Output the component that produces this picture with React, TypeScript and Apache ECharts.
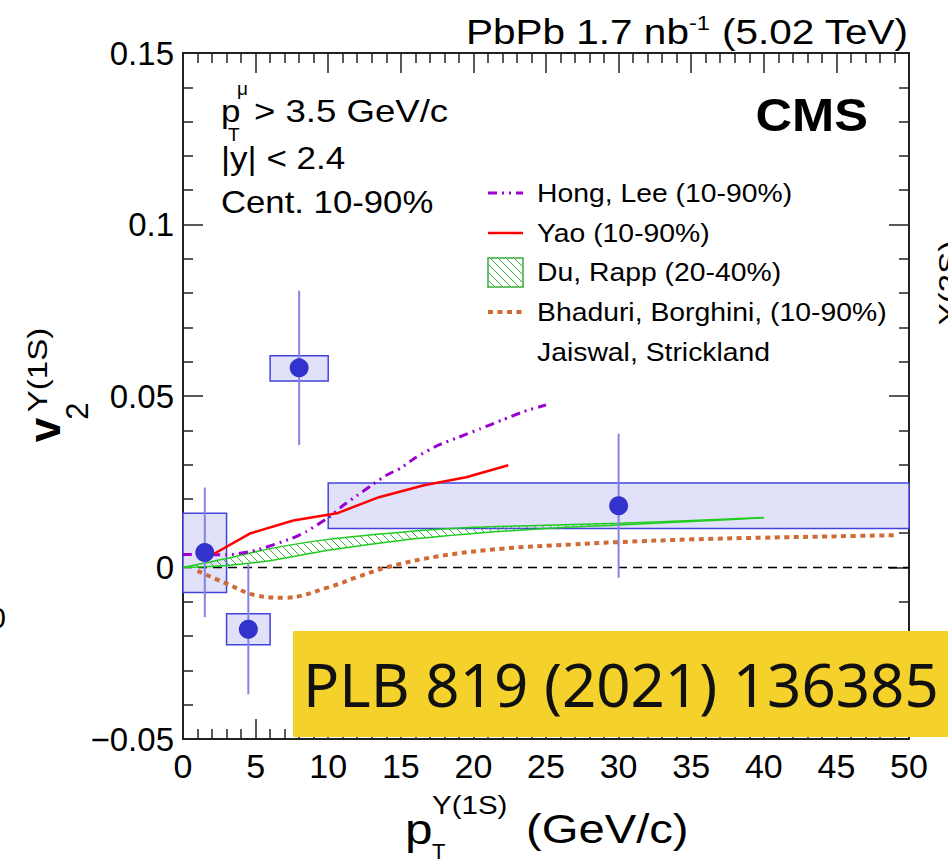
import React, { useEffect, useRef } from "react";
import * as echarts from "echarts";

// ---------------- data ----------------
const ptCenters = [1.5, 4.5, 8, 30];
const v2Values = [0.0044, -0.018, 0.0582, 0.018];
const statErrors = [0.0189, 0.019, 0.0225, 0.021];
const binLow = [0, 3, 6, 10];
const binHigh = [3, 6, 10, 50];
const sysLow = [-0.0073, -0.0225, 0.0544, 0.0114];
const sysHigh = [0.0158, -0.0135, 0.0617, 0.0246];

const hongLeeX = [0, 3, 5, 7.5, 8.5, 10, 11, 12, 13, 14, 15, 16, 17.5, 19, 20.5, 22, 23.5, 25];
const hongLeeV2 = [0.0038, 0.0037, 0.005, 0.0085, 0.0105, 0.0145, 0.018, 0.021, 0.024, 0.0269, 0.029, 0.032, 0.0355, 0.038, 0.0405, 0.043, 0.0455, 0.0474];

const yaoX = [1.6, 4.6, 7.6, 10.6, 13.5, 16.6, 19.5, 22.4];
const yaoV2 = [0.0027, 0.0099, 0.0137, 0.0158, 0.0205, 0.024, 0.0263, 0.0298];

const duRappX = [0, 3, 6, 10, 15, 20, 25, 30, 35, 40];
const duRappLow = [0, 0.0006, 0.002, 0.005, 0.0079, 0.0099, 0.0114, 0.0124, 0.0134, 0.0145];
const duRappHigh = [0, 0.0026, 0.0055, 0.0082, 0.0103, 0.0117, 0.0123, 0.0129, 0.0137, 0.0146];

const bhaduriX = [1, 3, 5, 7, 10, 12, 14, 17.5, 22, 26.7, 30, 35, 40, 45, 49];
const bhaduriV2 = [-0.001, -0.0047, -0.0081, -0.0088, -0.0058, -0.0028, 0, 0.0032, 0.0055, 0.0067, 0.0074, 0.0082, 0.0087, 0.0091, 0.0094];

const xTickLabels = ["0", "5", "10", "15", "20", "25", "30", "35", "40", "45", "50"];
const yTickLabels = ["\u22120.05", "0", "0.05", "0.1", "0.15"];

const legendLabels = [
  "Hong, Lee (10-90%)",
  "Yao (10-90%)",
  "Du, Rapp (20-40%)",
  "Bhaduri, Borghini, (10-90%)",
  "Jaiswal, Strickland",
];

// ---------------- styles ----------------
const FONT = "'Liberation Sans', Arial, Helvetica, sans-serif";
const C_HONG = "#9a00d0";
const C_YAO = "#ff0000";
const C_DU = "#1fcc1f";
const C_DU_HATCH = "#3aaa3a";
const C_BHA = "#cf6b35";
const C_PT = "#3232cc";
const C_BOX_FILL = "#e1e1f9";
const C_BOX_EDGE = "#4343dd";
const C_ERR = "#8383e8";
const HONG_DASH = [9, 5, 2, 5, 2, 5];
const BHA_DASH = [5, 4.5];

function hatchRect(x0: number, y0: number, x1: number, y1: number, s: number) {
  const out: any[] = [];
  const kMin = Math.floor((y0 - x1) / s);
  const kMax = Math.ceil((y1 - x0) / s);
  for (let k = kMin; k <= kMax; k++) {
    const c = k * s;
    const xs = Math.max(x0, y0 - c);
    const xe = Math.min(x1, y1 - c);
    if (xe - xs > 0.5) {
      out.push({
        type: "line",
        shape: { x1: xs, y1: xs + c, x2: xe, y2: xe + c },
        style: { stroke: C_DU_HATCH, lineWidth: 1 },
      });
    }
  }
  return out;
}

function axisBase(showLabels: boolean, isX: boolean, position: string) {
  return {
    type: "value",
    position,
    min: isX ? 0 : -0.05,
    max: isX ? 50 : 0.15,
    interval: isX ? 5 : 0.05,
    axisLine: { show: true, onZero: false, lineStyle: { color: "#222", width: 2 } },
    axisTick: { show: true, inside: true, length: 20, lineStyle: { color: "#222", width: 1.5 } },
    minorTick: { show: true, splitNumber: 5, length: 10, lineStyle: { color: "#222", width: 1.5 } },
    splitLine: { show: false },
    minorSplitLine: { show: false },
    axisLabel: {
      show: showLabels,
      fontSize: isX ? 34 : 33,
      fontFamily: FONT,
      color: "#000",
      margin: isX ? 10 : 9,
      showMinLabel: true,
      showMaxLabel: true,
      formatter: (v: number) =>
        isX ? xTickLabels[Math.round(v / 5)] : yTickLabels[Math.round((v + 0.05) / 0.05)],
    },
  };
}

function buildOption() {
  const boxData = ptCenters.map((_, i) => [binLow[i], binHigh[i], sysLow[i], sysHigh[i]]);
  const errData = ptCenters.map((x, i) => [x, v2Values[i] - statErrors[i], v2Values[i] + statErrors[i]]);
  const bandData = duRappX.map((x, i) => [x, duRappLow[i], duRappHigh[i]]);

  const legendY = [193, 233, 272, 312, 352];
  const lx0 = 488, lx1 = 523;

  const graphic: any[] = [
    // top right title
    {
      type: "text", x: 908, y: 31, scaleX: 1.125, z: 50,
      style: {
        text: "{a|PbPb 1.7 nb}{s|-1}{a| (5.02 TeV)}",
        align: "right", verticalAlign: "middle", fill: "#000",
        rich: {
          a: { fontSize: 36, fontFamily: FONT, lineHeight: 38, fill: "#000" },
          s: { fontSize: 21, fontFamily: FONT, lineHeight: 23, verticalAlign: "top", fill: "#000" },
        },
      },
    },
    // CMS
    {
      type: "text", x: 868, y: 115, scaleX: 1.1, z: 50,
      style: { text: "CMS", fontSize: 46, fontWeight: "bold", fontFamily: FONT, fill: "#000", align: "right", verticalAlign: "middle" },
    },
    // kinematic text
    { type: "text", x: 221, y: 111, scaleX: 1.13, z: 50, style: { text: "p", fontSize: 31, fontFamily: FONT, fill: "#000", align: "left", verticalAlign: "middle" } },
    { type: "text", x: 228, y: 134, z: 50, style: { text: "T", fontSize: 19, fontFamily: FONT, fill: "#000", align: "left", verticalAlign: "middle" } },
    { type: "text", x: 237, y: 88, z: 50, style: { text: "\u03bc", fontSize: 19, fontFamily: FONT, fill: "#000", align: "left", verticalAlign: "middle" } },
    { type: "text", x: 254, y: 111, scaleX: 1.18, z: 50, style: { text: "> 3.5 GeV/c", fontSize: 31, fontFamily: FONT, fill: "#000", align: "left", verticalAlign: "middle" } },
    { type: "text", x: 221, y: 158, scaleX: 1.13, z: 50, style: { text: "|y| < 2.4", fontSize: 31, fontFamily: FONT, fill: "#000", align: "left", verticalAlign: "middle" } },
    { type: "text", x: 221, y: 202, scaleX: 1.12, z: 50, style: { text: "Cent. 10-90%", fontSize: 31, fontFamily: FONT, fill: "#000", align: "left", verticalAlign: "middle" } },
    // legend symbols
    { type: "line", z: 50, shape: { x1: lx0, y1: legendY[0], x2: lx1, y2: legendY[0] }, style: { stroke: C_HONG, lineWidth: 3, lineDash: HONG_DASH } },
    { type: "line", z: 50, shape: { x1: lx0, y1: legendY[1], x2: lx1, y2: legendY[1] }, style: { stroke: C_YAO, lineWidth: 2.5 } },
    { type: "rect", z: 50, shape: { x: lx0, y: 258, width: lx1 - lx0, height: 29 }, style: { fill: "#fff", stroke: C_DU_HATCH, lineWidth: 1.5 } },
    ...hatchRect(lx0 + 1, 259, lx1 - 1, 286, 8).map((e) => ({ ...e, z: 51 })),
    { type: "line", z: 50, shape: { x1: lx0, y1: legendY[3], x2: lx1, y2: legendY[3] }, style: { stroke: C_BHA, lineWidth: 4, lineDash: BHA_DASH } },
    ...legendLabels.map((t, i) => ({
      type: "text", x: 537, y: legendY[i], scaleX: 1.09, z: 50,
      style: { text: t, fontSize: 26, fontFamily: FONT, fill: "#000", align: "left", verticalAlign: "middle" },
    })),
    // y axis title (rotated)
    { type: "text", x: 44, y: 430, rotation: Math.PI / 2, z: 50, style: { text: "v", fontSize: 44, fontWeight: "bold", fontFamily: FONT, fill: "#000", align: "center", verticalAlign: "middle" } },
    { type: "text", x: 77, y: 411, rotation: Math.PI / 2, z: 50, style: { text: "2", fontSize: 31, fontFamily: FONT, fill: "#000", align: "center", verticalAlign: "middle" } },
    { type: "text", x: 37, y: 370, rotation: Math.PI / 2, scaleX: 1.18, z: 50, style: { text: "\u03a5(1S)", fontSize: 28, fontFamily: FONT, fill: "#000", align: "center", verticalAlign: "middle" } },
    // x axis title
    { type: "text", x: 405, y: 829, scaleX: 1.18, z: 50, style: { text: "p", fontSize: 42, fontFamily: FONT, fill: "#000", align: "left", verticalAlign: "middle" } },
    { type: "text", x: 432, y: 851, z: 50, style: { text: "T", fontSize: 22, fontFamily: FONT, fill: "#000", align: "left", verticalAlign: "middle" } },
    { type: "text", x: 432, y: 805, scaleX: 1.18, z: 50, style: { text: "\u03a5(1S)", fontSize: 25, fontFamily: FONT, fill: "#000", align: "left", verticalAlign: "middle" } },
    { type: "text", x: 526, y: 829, scaleX: 1.18, z: 50, style: { text: "(GeV/c)", fontSize: 40, fontFamily: FONT, fill: "#000", align: "left", verticalAlign: "middle" } },
    // neighbouring panel fragments
    { type: "text", x: 6, y: 617, z: 50, style: { text: "0", fontSize: 30, fontFamily: FONT, fill: "#000", align: "right", verticalAlign: "middle" } },
    { type: "text", x: 948, y: 283, rotation: Math.PI / 2, scaleX: 1.18, z: 50, style: { text: "\u03a5(2S)", fontSize: 28, fontFamily: FONT, fill: "#000", align: "center", verticalAlign: "middle" } },
    // journal reference banner
    { type: "rect", z: 100, shape: { x: 293, y: 631, width: 655, height: 106 }, style: { fill: "#f4d12b" } },
    { type: "text", x: 303, y: 684, z: 101, style: { text: "PLB 819 (2021) 136385", fontSize: 60, fontFamily: "'Noto Sans', 'Open Sans', sans-serif", fill: "#111", align: "left", verticalAlign: "middle" } },
  ];

  return {
    animation: false,
    backgroundColor: "#fff",
    grid: { left: 183, right: 39, top: 53, bottom: 125, containLabel: false },
    xAxis: [axisBase(true, true, "bottom"), axisBase(false, true, "top")],
    yAxis: [axisBase(true, false, "left"), axisBase(false, false, "right")],
    series: [
      {
        name: "sys",
        type: "custom",
        z: 1,
        data: boxData,
        encode: { x: [0, 1], y: [2, 3] },
        renderItem: (params: any, api: any) => {
          const p0 = api.coord([api.value(0), api.value(3)]);
          const p1 = api.coord([api.value(1), api.value(2)]);
          return {
            type: "rect",
            shape: { x: p0[0], y: p0[1], width: p1[0] - p0[0], height: p1[1] - p0[1] },
            style: { fill: C_BOX_FILL, stroke: C_BOX_EDGE, lineWidth: 1.5 },
          };
        },
      },
      {
        name: "zero",
        type: "line",
        z: 2,
        symbol: "none",
        data: [[0, 0], [50, 0]],
        lineStyle: { color: "#000", width: 1.3, type: [9, 6] },
      },
      {
        name: "Du, Rapp hatch",
        type: "custom",
        z: 3,
        data: bandData,
        encode: { x: 0, y: [1, 2] },
        renderItem: (params: any, api: any) => {
          const i = params.dataIndex;
          if (i >= duRappX.length - 1) return { type: "group", children: [] };
          const a0 = api.coord([duRappX[i], duRappHigh[i]]);
          const b0 = api.coord([duRappX[i], duRappLow[i]]);
          const a1 = api.coord([duRappX[i + 1], duRappHigh[i + 1]]);
          const b1 = api.coord([duRappX[i + 1], duRappLow[i + 1]]);
          const px0 = a0[0], px1 = a1[0];
          const mu = (a1[1] - a0[1]) / (px1 - px0);
          const ml = (b1[1] - b0[1]) / (px1 - px0);
          const s = 8;
          const kMin = Math.floor((Math.min(a0[1], a1[1]) - px1) / s);
          const kMax = Math.ceil((Math.max(b0[1], b1[1]) - px0) / s);
          const children: any[] = [];
          for (let k = kMin; k <= kMax; k++) {
            const c = k * s;
            const xu = (a0[1] - mu * px0 - c) / (1 - mu);
            const xl = (b0[1] - ml * px0 - c) / (1 - ml);
            const xs = Math.max(xu, px0);
            const xe = Math.min(xl, px1);
            if (xe - xs > 0.3) {
              children.push({
                type: "line",
                shape: { x1: xs, y1: xs + c, x2: xe, y2: xe + c },
                style: { stroke: C_DU_HATCH, lineWidth: 1 },
              });
            }
          }
          return { type: "group", children };
        },
      },
      {
        name: "Du, Rapp low",
        type: "line", z: 4, symbol: "none", smooth: 0.3,
        data: duRappX.map((x, i) => [x, duRappLow[i]]),
        lineStyle: { color: C_DU, width: 1.5 },
      },
      {
        name: "Du, Rapp high",
        type: "line", z: 4, symbol: "none", smooth: 0.3,
        data: duRappX.map((x, i) => [x, duRappHigh[i]]),
        lineStyle: { color: C_DU, width: 1.5 },
      },
      {
        name: "Bhaduri",
        type: "line", z: 5, symbol: "none", smooth: 0.4,
        data: bhaduriX.map((x, i) => [x, bhaduriV2[i]]),
        lineStyle: { color: C_BHA, width: 4, type: BHA_DASH },
      },
      {
        name: "Hong, Lee",
        type: "line", z: 5, symbol: "none", smooth: 0.2,
        data: hongLeeX.map((x, i) => [x, hongLeeV2[i]]),
        lineStyle: { color: C_HONG, width: 3, type: HONG_DASH },
      },
      {
        name: "Yao",
        type: "line", z: 5, symbol: "none",
        data: yaoX.map((x, i) => [x, yaoV2[i]]),
        lineStyle: { color: C_YAO, width: 2.5 },
      },
      {
        name: "stat",
        type: "custom",
        z: 6,
        data: errData,
        encode: { x: 0, y: [1, 2] },
        renderItem: (params: any, api: any) => {
          const p0 = api.coord([api.value(0), api.value(1)]);
          const p1 = api.coord([api.value(0), api.value(2)]);
          return {
            type: "line",
            shape: { x1: p0[0], y1: p0[1], x2: p1[0], y2: p1[1] },
            style: { stroke: C_ERR, lineWidth: 2 },
          };
        },
      },
      {
        name: "CMS data",
        type: "scatter",
        z: 7,
        symbol: "circle",
        symbolSize: 19,
        data: ptCenters.map((x, i) => [x, v2Values[i]]),
        itemStyle: { color: C_PT, opacity: 1 },
      },
    ],
    graphic,
  };
}

export default function App() {
  const ref = useRef<HTMLDivElement>(null);
  useEffect(() => {
    document.body.style.margin = "0";
    if (!ref.current) return;
    const chart = echarts.init(ref.current, undefined, { renderer: "svg" });
    chart.setOption(buildOption() as any);
    return () => chart.dispose();
  }, []);
  return <div ref={ref} style={{ width: 948, height: 864 }} />;
}
